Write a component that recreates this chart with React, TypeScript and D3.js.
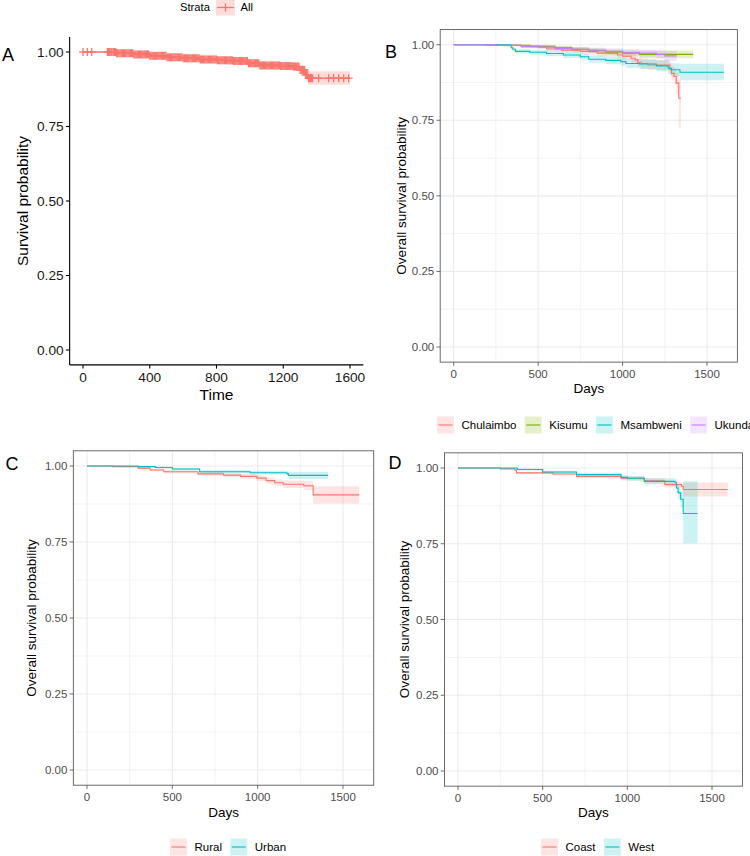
import React from 'react';
import * as d3 from 'd3';

const FONT = '"Liberation Sans", Arial, Helvetica, sans-serif';

// ---------- Panel A (all participants) ----------
const A_STRATA = ['All'];
const A_TIMES = [0, 200, 300, 400, 500, 600, 700, 800, 900, 990, 1060, 1180, 1260, 1300, 1330, 1350, 1600];
const A_SURV = [1, 0.996, 0.992, 0.987, 0.982, 0.979, 0.975, 0.972, 0.97, 0.962, 0.955, 0.953, 0.951, 0.94, 0.923, 0.912, 0.912];
const A_LOWER = [1, 0.993, 0.988, 0.982, 0.976, 0.972, 0.968, 0.964, 0.961, 0.952, 0.944, 0.941, 0.938, 0.925, 0.905, 0.89, 0.89];
const A_UPPER = [1, 0.999, 0.996, 0.992, 0.988, 0.986, 0.982, 0.98, 0.979, 0.972, 0.966, 0.965, 0.964, 0.955, 0.941, 0.935, 0.935];
const A_CENSOR = [0, 26, 52, 146, 153, 160, 167, 173, 181, 188, 195, 201, 208, 215, 222, 229, 236, 242, 249, 256, 263, 270,
  277, 284, 291, 297, 304, 311, 318, 325, 332, 338, 345, 352, 359, 366, 373, 380, 387, 393, 400, 407, 414, 421, 428, 435,
  442, 448, 455, 462, 469, 476, 483, 490, 497, 503, 510, 517, 524, 531, 538, 545, 552, 558, 565, 572, 579, 586, 593, 600,
  607, 613, 620, 627, 634, 641, 648, 655, 662, 668, 675, 682, 689, 696, 703, 710, 717, 723, 730, 737, 744, 751, 758, 765,
  772, 778, 785, 792, 799, 806, 813, 820, 827, 833, 840, 847, 854, 861, 868, 875, 882, 888, 895, 902, 909, 916, 923, 930,
  937, 943, 950, 957, 964, 971, 978, 985, 992, 998, 1005, 1012, 1019, 1026, 1033, 1040, 1047, 1053, 1060, 1067, 1074, 1081,
  1088, 1095, 1102, 1108, 1115, 1122, 1129, 1136, 1143, 1150, 1157, 1163, 1170, 1177, 1184, 1191, 1198, 1205, 1212, 1218,
  1225, 1232, 1239, 1246, 1253, 1260, 1267, 1273, 1280, 1287, 1294, 1301, 1308, 1315, 1322, 1328, 1334, 1340, 1346, 1352,
  1358, 1364, 1370, 1376, 1412, 1472, 1502, 1532, 1562, 1592];
const A_X_TICKS = [0, 400, 800, 1200, 1600];

// ---------- Panel B (sites) ----------
const B_GROUPS = ['Chulaimbo', 'Kisumu', 'Msambweni', 'Ukunda'];
const B_CHU_T = [0, 200, 400, 550, 640, 750, 850, 970, 1000, 1050, 1075, 1090, 1110, 1150, 1280, 1290, 1305, 1318, 1333, 1345];
const B_CHU_S = [1, 0.998, 0.993, 0.986, 0.982, 0.978, 0.972, 0.966, 0.962, 0.955, 0.95, 0.942, 0.938, 0.933, 0.917, 0.905, 0.895, 0.873, 0.823, 0.823];
const B_CHU_L = [1, 0.995, 0.988, 0.979, 0.974, 0.969, 0.962, 0.955, 0.95, 0.942, 0.936, 0.927, 0.922, 0.916, 0.897, 0.882, 0.868, 0.838, 0.725, 0.725];
const B_CHU_U = [1, 1, 0.998, 0.993, 0.99, 0.987, 0.982, 0.977, 0.974, 0.968, 0.964, 0.957, 0.954, 0.95, 0.937, 0.928, 0.922, 0.908, 0.885, 0.885];
const B_KIS_T = [0, 300, 450, 600, 700, 800, 900, 1000, 1100, 1418];
const B_KIS_S = [1, 0.998, 0.995, 0.99, 0.985, 0.98, 0.976, 0.972, 0.968, 0.968];
const B_KIS_L = [1, 0.995, 0.99, 0.984, 0.978, 0.972, 0.967, 0.962, 0.955, 0.955];
const B_KIS_U = [1, 1, 0.999, 0.996, 0.992, 0.988, 0.985, 0.982, 0.981, 0.981];
const B_MSA_T = [0, 340, 350, 365, 450, 550, 650, 750, 800, 900, 990, 1020, 1100, 1200, 1270, 1290, 1340, 1601];
const B_MSA_S = [1, 0.99, 0.985, 0.978, 0.975, 0.971, 0.966, 0.96, 0.952, 0.948, 0.944, 0.938, 0.936, 0.93, 0.922, 0.917, 0.909, 0.909];
const B_MSA_L = [1, 0.985, 0.979, 0.971, 0.967, 0.962, 0.956, 0.949, 0.94, 0.935, 0.93, 0.923, 0.92, 0.912, 0.902, 0.895, 0.882, 0.882];
const B_MSA_U = [1, 0.995, 0.991, 0.985, 0.983, 0.98, 0.976, 0.971, 0.964, 0.961, 0.958, 0.953, 0.952, 0.948, 0.942, 0.939, 0.937, 0.937];
const B_UKU_T = [0, 250, 400, 500, 600, 700, 800, 900, 1000, 1100, 1200, 1250, 1320];
const B_UKU_S = [1, 0.998, 0.995, 0.992, 0.988, 0.985, 0.982, 0.978, 0.975, 0.972, 0.968, 0.963, 0.963];
const B_UKU_L = [1, 0.995, 0.99, 0.986, 0.981, 0.977, 0.973, 0.968, 0.964, 0.96, 0.954, 0.945, 0.945];
const B_UKU_U = [1, 1, 0.999, 0.997, 0.995, 0.993, 0.991, 0.988, 0.986, 0.984, 0.982, 0.979, 0.979];

// ---------- Panel C (rural / urban) ----------
const C_GROUPS = ['Rural', 'Urban'];
const C_RUR_T = [0, 150, 300, 370, 450, 650, 800, 900, 995, 1050, 1100, 1150, 1270, 1325, 1595];
const C_RUR_S = [1, 0.998, 0.993, 0.987, 0.981, 0.974, 0.97, 0.966, 0.96, 0.952, 0.945, 0.94, 0.935, 0.905, 0.905];
const C_RUR_L = [1, 0.996, 0.99, 0.983, 0.976, 0.968, 0.963, 0.958, 0.951, 0.942, 0.934, 0.928, 0.921, 0.877, 0.877];
const C_RUR_U = [1, 1, 0.996, 0.991, 0.986, 0.98, 0.977, 0.974, 0.969, 0.962, 0.956, 0.952, 0.949, 0.933, 0.933];
const C_URB_T = [0, 300, 400, 500, 660, 955, 1172, 1180, 1412];
const C_URB_S = [1, 0.998, 0.995, 0.99, 0.981, 0.978, 0.975, 0.969, 0.969];
const C_URB_L = [1, 0.996, 0.992, 0.986, 0.976, 0.972, 0.968, 0.957, 0.957];
const C_URB_U = [1, 1, 0.998, 0.994, 0.986, 0.984, 0.982, 0.981, 0.981];

// ---------- Panel D (coast / west) ----------
const D_GROUPS = ['Coast', 'West'];
const D_COA_T = [0, 250, 336, 345, 560, 700, 963, 1100, 1221, 1320, 1330, 1593];
const D_COA_S = [1, 0.997, 0.993, 0.984, 0.98, 0.972, 0.966, 0.958, 0.945, 0.94, 0.929, 0.929];
const D_COA_L = [1, 0.995, 0.99, 0.98, 0.975, 0.966, 0.959, 0.95, 0.936, 0.93, 0.906, 0.906];
const D_COA_U = [1, 0.999, 0.996, 0.988, 0.985, 0.978, 0.973, 0.966, 0.954, 0.95, 0.952, 0.952];
const D_WES_T = [0, 350, 500, 700, 963, 1000, 1100, 1280, 1290, 1300, 1315, 1330, 1415];
const D_WES_S = [1, 0.995, 0.987, 0.978, 0.969, 0.966, 0.956, 0.953, 0.934, 0.918, 0.897, 0.85, 0.85];
const D_WES_L = [1, 0.992, 0.983, 0.972, 0.962, 0.958, 0.946, 0.942, 0.918, 0.897, 0.87, 0.752, 0.752];
const D_WES_U = [1, 0.998, 0.991, 0.984, 0.976, 0.974, 0.966, 0.964, 0.95, 0.939, 0.924, 0.956, 0.956];

const BW_X_TICKS = [0, 500, 1000, 1500];
const BW_X_MINOR = [250, 750, 1250];
const Y_TICKS = [0, 0.25, 0.5, 0.75, 1];
const Y_MINOR = [0.125, 0.375, 0.625, 0.875];

const COLORS4 = ['#F8766D', '#7CAE00', '#00BFC4', '#C77CFF'];
const COLORS2 = ['#F8766D', '#00BFC4'];

type Series = { name: string; t: number[]; s: number[]; lo: number[]; hi: number[]; color: string };

let _ctx: CanvasRenderingContext2D | null = null;
function textW(txt: string, size: number) {
  if (!_ctx) _ctx = document.createElement('canvas').getContext('2d');
  if (!_ctx) return txt.length * size * 0.55;
  _ctx.font = `${size}px "Liberation Sans", Arial, sans-serif`;
  return _ctx.measureText(txt).width;
}

function linePath(sx: any, sy: any, t: number[], s: number[]) {
  return d3.line<number>().x((_, i) => sx(t[i])).y((v) => sy(v)).curve(d3.curveStepAfter)(s) || '';
}
function bandPath(sx: any, sy: any, t: number[], lo: number[], hi: number[]) {
  return d3.area<number>().x((_, i) => sx(t[i])).y0((_, i) => sy(lo[i])).y1((_, i) => sy(hi[i])).curve(d3.curveStepAfter)(t) || '';
}
function survAt(times: number[], surv: number[], x: number) {
  const i = d3.bisectRight(times, x) - 1;
  return surv[Math.max(0, i)];
}
const fmt = d3.format('.2f');

function Legend({ x, cy, series }: { x: number; cy: number; series: Series[] }) {
  const size = 11.5;
  let cur = x;
  const items = series.map((s) => {
    const kx = cur;
    const tx = kx + 17 + 7.5;
    cur = tx + textW(s.name, size) + 8.3;
    return { s, kx, tx };
  });
  return (
    <g>
      {items.map(({ s, kx, tx }) => (
        <g key={s.name}>
          <rect x={kx} y={cy - 8.5} width={17} height={17} fill={s.color} fillOpacity={0.2} />
          <line x1={kx + 1.5} x2={kx + 15.5} y1={cy} y2={cy} stroke={s.color} strokeWidth={1.1} />
          <text x={tx} y={cy} dy="0.35em" fontSize={size} fill="#000">{s.name}</text>
        </g>
      ))}
    </g>
  );
}

function BwPanel(props: {
  x0: number; x1500: number; y1: number; y0: number; series: Series[]; letter: string;
  letterX: number; letterY: number; yTitleX: number; xTitleY: number; legendX: number; legendY: number;
}) {
  const { series } = props;
  const sx = d3.scaleLinear().domain([0, 1500]).range([props.x0, props.x1500]);
  const sy = d3.scaleLinear().domain([0, 1]).range([props.y0, props.y1]);
  const L = sx(-80), R = sx(1680), T = sy(1.05), B = sy(-0.05);
  const grid = '#EBEBEB';
  return (
    <g>
      <rect x={L} y={T} width={R - L} height={B - T} fill="#fff" />
      {BW_X_MINOR.map((v) => <line key={'xm' + v} x1={sx(v)} x2={sx(v)} y1={T} y2={B} stroke={grid} strokeWidth={0.6} />)}
      {Y_MINOR.map((v) => <line key={'ym' + v} x1={L} x2={R} y1={sy(v)} y2={sy(v)} stroke={grid} strokeWidth={0.6} />)}
      {BW_X_TICKS.map((v) => <line key={'xM' + v} x1={sx(v)} x2={sx(v)} y1={T} y2={B} stroke={grid} strokeWidth={1.1} />)}
      {Y_TICKS.map((v) => <line key={'yM' + v} x1={L} x2={R} y1={sy(v)} y2={sy(v)} stroke={grid} strokeWidth={1.1} />)}
      {series.map((s) => <path key={'b' + s.name} d={bandPath(sx, sy, s.t, s.lo, s.hi)} fill={s.color} fillOpacity={0.2} />)}
      {series.map((s) => <path key={'l' + s.name} d={linePath(sx, sy, s.t, s.s)} fill="none" stroke={s.color} strokeWidth={1.1} />)}
      <rect x={L} y={T} width={R - L} height={B - T} fill="none" stroke="#5a5a5a" strokeWidth={0.9} />
      {Y_TICKS.map((v) => (
        <g key={'yt' + v}>
          <line x1={L - 3.7} x2={L} y1={sy(v)} y2={sy(v)} stroke="#5a5a5a" strokeWidth={0.9} />
          <text x={L - 6} y={sy(v)} dy="0.35em" textAnchor="end" fontSize={11.5} fill="#4D4D4D">{fmt(v)}</text>
        </g>
      ))}
      {BW_X_TICKS.map((v) => (
        <g key={'xt' + v}>
          <line x1={sx(v)} x2={sx(v)} y1={B} y2={B + 3.7} stroke="#5a5a5a" strokeWidth={0.9} />
          <text x={sx(v)} y={B + 12} dy="0.35em" textAnchor="middle" fontSize={11.5} fill="#4D4D4D">{v}</text>
        </g>
      ))}
      <text x={(L + R) / 2} y={props.xTitleY} dy="0.35em" textAnchor="middle" fontSize={13.5} fill="#000">Days</text>
      <text transform={`translate(${props.yTitleX},${(sy(0) + sy(1)) / 2}) rotate(-90)`} dy="0.35em" textAnchor="middle" fontSize={13.5} fill="#000">Overall survival probability</text>
      <text x={props.letterX} y={props.letterY} dy="0.35em" textAnchor="middle" fontSize={18} fill="#000">{props.letter}</text>
      <Legend x={props.legendX} cy={props.legendY} series={series} />
    </g>
  );
}

function PanelA() {
  const sx = d3.scaleLinear().domain([0, 1600]).range([83, 350]);
  const sy = d3.scaleLinear().domain([0, 1]).range([350, 52]);
  const L = sx(-80), R = sx(1680), T = sy(1.05), B = sy(-0.05);
  const col = '#F8766D';
  const h = 4;
  return (
    <g>
      <path d={bandPath(sx, sy, A_TIMES, A_LOWER, A_UPPER)} fill={col} fillOpacity={0.25} />
      <path d={linePath(sx, sy, A_TIMES, A_SURV)} fill="none" stroke={col} strokeWidth={1.3} />
      {A_CENSOR.map((c, i) => {
        const x = sx(c), y = sy(survAt(A_TIMES, A_SURV, c));
        return (
          <g key={'c' + i}>
            <line x1={x - h} x2={x + h} y1={y} y2={y} stroke={col} strokeWidth={1.3} />
            <line x1={x} x2={x} y1={y - h} y2={y + h} stroke={col} strokeWidth={1.3} />
          </g>
        );
      })}
      <line x1={L} x2={L} y1={T} y2={B} stroke="#000" strokeWidth={1.1} />
      <line x1={L} x2={R} y1={B} y2={B} stroke="#000" strokeWidth={1.1} />
      {Y_TICKS.map((v) => (
        <g key={'ya' + v}>
          <line x1={L - 3.7} x2={L} y1={sy(v)} y2={sy(v)} stroke="#000" strokeWidth={1.1} />
          <text x={L - 6} y={sy(v)} dy="0.35em" textAnchor="end" fontSize={13.7} fill="#1a1a1a">{fmt(v)}</text>
        </g>
      ))}
      {A_X_TICKS.map((v) => (
        <g key={'xa' + v}>
          <line x1={sx(v)} x2={sx(v)} y1={B} y2={B + 3.7} stroke="#000" strokeWidth={1.1} />
          <text x={sx(v)} y={B + 12.5} dy="0.35em" textAnchor="middle" fontSize={13.7} fill="#1a1a1a">{v}</text>
        </g>
      ))}
      <text x={(L + R) / 2} y={395} dy="0.35em" textAnchor="middle" fontSize={15.5} fill="#000">Time</text>
      <text transform={`translate(23,${(sy(0) + sy(1)) / 2}) rotate(-90)`} dy="0.35em" textAnchor="middle" fontSize={15.5} fill="#000">Survival probability</text>
      <text x={8} y={55} dy="0.35em" textAnchor="middle" fontSize={18} fill="#000">A</text>
      {/* legend */}
      <text x={180} y={7.5} dy="0.35em" fontSize={11.2} fill="#000">Strata</text>
      <rect x={216} y={-1.5} width={19} height={17} fill={col} fillOpacity={0.25} />
      <line x1={217} x2={234} y1={7.5} y2={7.5} stroke={col} strokeWidth={1.3} />
      <line x1={225.5} x2={225.5} y1={3.5} y2={11.5} stroke={col} strokeWidth={1.3} />
      <text x={240.5} y={7.5} dy="0.35em" fontSize={11.2} fill="#000">{A_STRATA[0]}</text>
    </g>
  );
}

export default function App() {
  const bSeries: Series[] = [
    { name: B_GROUPS[0], t: B_CHU_T, s: B_CHU_S, lo: B_CHU_L, hi: B_CHU_U, color: COLORS4[0] },
    { name: B_GROUPS[1], t: B_KIS_T, s: B_KIS_S, lo: B_KIS_L, hi: B_KIS_U, color: COLORS4[1] },
    { name: B_GROUPS[2], t: B_MSA_T, s: B_MSA_S, lo: B_MSA_L, hi: B_MSA_U, color: COLORS4[2] },
    { name: B_GROUPS[3], t: B_UKU_T, s: B_UKU_S, lo: B_UKU_L, hi: B_UKU_U, color: COLORS4[3] },
  ];
  const cSeries: Series[] = [
    { name: C_GROUPS[0], t: C_RUR_T, s: C_RUR_S, lo: C_RUR_L, hi: C_RUR_U, color: COLORS2[0] },
    { name: C_GROUPS[1], t: C_URB_T, s: C_URB_S, lo: C_URB_L, hi: C_URB_U, color: COLORS2[1] },
  ];
  const dSeries: Series[] = [
    { name: D_GROUPS[0], t: D_COA_T, s: D_COA_S, lo: D_COA_L, hi: D_COA_U, color: COLORS2[0] },
    { name: D_GROUPS[1], t: D_WES_T, s: D_WES_S, lo: D_WES_L, hi: D_WES_U, color: COLORS2[1] },
  ];
  return (
    <svg width={750} height={856} viewBox="0 0 750 856"
      style={{ position: 'absolute', left: 0, top: 0, background: '#fff', fontFamily: FONT }}>
      <rect x={0} y={0} width={750} height={856} fill="#fff" />
      <PanelA />
      <BwPanel x0={453.7} x1500={707} y1={44.7} y0={347} series={bSeries} letter="B"
        letterX={391} letterY={52} yTitleX={401} xTitleY={388} legendX={437} legendY={425} />
      <BwPanel x0={87} x1500={343} y1={466} y0={770} series={cSeries} letter="C"
        letterX={12} letterY={464} yTitleX={31} xTitleY={812} legendX={170} legendY={847} />
      <BwPanel x0={458} x1500={712} y1={468} y0={771} series={dSeries} letter="D"
        letterX={395} letterY={463} yTitleX={404} xTitleY={812} legendX={541} legendY={847} />
    </svg>
  );
}
